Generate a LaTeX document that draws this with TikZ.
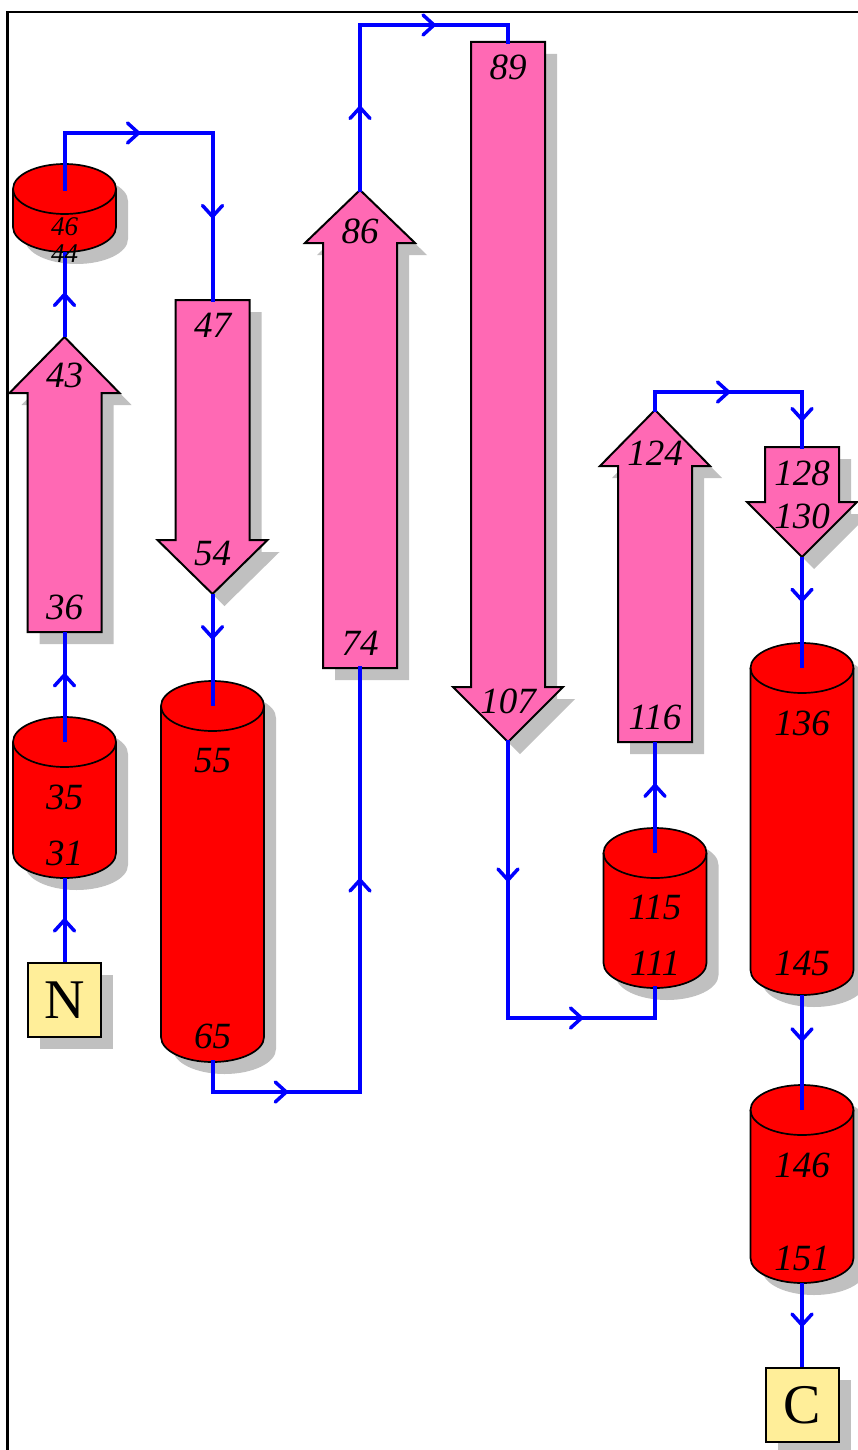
\documentclass[tikz,border=0pt]{standalone}
\usepackage{fontspec}
\setmainfont{Liberation Serif}
\usetikzlibrary{decorations.markings}
\definecolor{pinkc}{HTML}{FF69B4}
\definecolor{shadowc}{HTML}{C0C0C0}
\definecolor{termc}{HTML}{FFEE99}
\definecolor{bluec}{HTML}{0000FF}
\newcommand\arrpath[4]{(#1,#2) -- (#1+55,#3) -- (#1+37,#3) -- (#1+37,#4) -- (#1-37,#4) -- (#1-37,#3) -- (#1-55,#3) -- cycle}
\newcommand\strandshape[5]{%
  \fill[shadowc,shift={(12,12)}] \arrpath{#2}{#3}{#4}{#5};
  \filldraw[strandst] \arrpath{#2}{#3}{#4}{#5};
  \coordinate (#1-tip) at (#2,#3);
  \coordinate (#1-end) at (#2,#5);}
\newcommand\cylpath[3]{(#1-51.5,#2) -- (#1-51.5,#3) arc[start angle=180,end angle=0,x radius=51.5,y radius=25] -- (#1+51.5,#2) arc[start angle=0,end angle=-180,x radius=51.5,y radius=25] -- cycle}
\newcommand\helixshape[4]{%
  \fill[shadowc,shift={(12,12)}] \cylpath{#2}{#3}{#4};
  \filldraw[helixst] \cylpath{#2}{#3}{#4};
  \draw[helixst,fill=none] (#2-51.5,#3) arc[start angle=180,end angle=0,x radius=51.5,y radius=25];
  \coordinate (#1-top) at (#2,#3);
  \coordinate (#1-bot) at (#2,#4+25);}
\begin{document}
\begin{tikzpicture}[x=1pt,y=-1pt,
  strandst/.style={draw=black,line width=2pt,fill=pinkc},
  helixst/.style={draw=black,line width=1.7pt,fill=red},
  termst/.style={draw=black,line width=2pt,fill=termc,minimum width=73pt,minimum height=74pt,inner sep=0pt,font=\fontsize{56}{56}\selectfont},
  termshadow/.style={fill=shadowc,minimum width=73pt,minimum height=74pt,inner sep=0pt},
  conn/.style={draw=bluec,line width=4pt},
  tick/.style={postaction={decorate},decoration={markings,mark=at position #1 with {\draw[bluec,line width=3.5pt,line cap=round,line join=miter] (-11pt,10pt) -- (0pt,0pt) -- (-11pt,-10pt);}}},
  tick/.default=0.5,
  lab/.style={anchor=base,inner sep=0pt,font=\fontsize{37}{37}\selectfont\itshape},
  smalllab/.style={anchor=base,inner sep=0pt,font=\fontsize{27}{27}\selectfont\itshape}]
\useasboundingbox (0,0) rectangle (858,1450);
% frame
\draw[line width=2.5pt] (7.5,1460) -- (7.5,12) -- (870,12);
% strands
\strandshape{s43}{64.5}{337}{393}{632}
\strandshape{s47}{212.5}{594}{540}{300}
\strandshape{s86}{360}{190}{243}{668}
\strandshape{s89}{508}{742}{687}{42}
\strandshape{s124}{655}{410}{466}{742}
\strandshape{s128}{802}{557}{502}{447}
% helices
\helixshape{h31}{64.5}{742}{853}
\helixshape{h44}{64.5}{189}{227}
\helixshape{h55}{212.5}{706}{1037}
\helixshape{h111}{655}{853}{963}
\helixshape{h136}{802}{668}{970}
\helixshape{h146}{802}{1110}{1258}
% termini
\node[termshadow] (nsh) at (76.5,1012) {};
\node[termst] (nterm) at (64.5,1000) {N};
\node[termshadow] (csh) at (814,1417) {};
\node[termst] (cterm) at (802,1405) {C};
% corner coordinates
\coordinate (k1) at (64.5,133);
\coordinate (k2) at (212.5,133);
\coordinate (k3) at (212.5,1092);
\coordinate (k4) at (360,1092);
\coordinate (k5) at (360,25);
\coordinate (k6) at (508,25);
\coordinate (k7) at (508,1018);
\coordinate (k8) at (655,1018);
\coordinate (k9) at (655,392);
\coordinate (k10) at (802,392);
% connectors
\draw[conn,tick] (nterm.north) -- (h31-bot);
\draw[conn,tick=0.61] (h31-top) -- (s43-end);
\draw[conn,tick] (s43-tip) -- (h44-bot);
\draw[conn,line cap=rect] (h44-top) -- (k1);
\draw[conn,tick,line cap=rect] (k1) -- (k2);
\draw[conn,tick,line cap=rect] (k2) -- (s47-end);
\draw[conn,tick=0.39] (s47-tip) -- (h55-top);
\draw[conn,line cap=rect] (h55-bot) -- (k3);
\draw[conn,tick,line cap=rect] (k3) -- (k4);
\draw[conn,tick,line cap=rect] (k4) -- (s86-end);
\draw[conn,tick,line cap=rect] (s86-tip) -- (k5);
\draw[conn,tick,line cap=rect] (k5) -- (k6);
\draw[conn,line cap=rect] (k6) -- (s89-end);
\draw[conn,tick,line cap=rect] (s89-tip) -- (k7);
\draw[conn,tick,line cap=rect] (k7) -- (k8);
\draw[conn,line cap=rect] (k8) -- (h111-bot);
\draw[conn,tick=0.61] (h111-top) -- (s124-end);
\draw[conn,line cap=rect] (s124-tip) -- (k9);
\draw[conn,tick,line cap=rect] (k9) -- (k10);
\draw[conn,tick,line cap=rect] (k10) -- (s128-end);
\draw[conn,tick=0.39] (s128-tip) -- (h136-top);
\draw[conn,tick=0.39] (h136-bot) -- (h146-top);
\draw[conn,tick] (h146-bot) -- (cterm.north);
% labels
\node[smalllab] (t46) at (64.5,235) {46};
\node[smalllab] (t44) at (64.5,262) {44};
\node[lab] (t43) at (64.5,387) {43};
\node[lab] (t36) at (64.5,619) {36};
\node[lab] (t35) at (64.5,809) {35};
\node[lab] (t31) at (64.5,865) {31};
\node[lab] (t47) at (212.5,337) {47};
\node[lab] (t54) at (212.5,565) {54};
\node[lab] (t55) at (212.5,772) {55};
\node[lab] (t65) at (212.5,1048) {65};
\node[lab] (t86) at (360,243) {86};
\node[lab] (t74) at (360,655) {74};
\node[lab] (t89) at (508,80) {89};
\node[lab] (t107) at (508,713) {107};
\node[lab] (t124) at (655,465) {124};
\node[lab] (t116) at (655,729) {116};
\node[lab] (t115) at (655,919) {115};
\node[lab] (t111) at (655,975) {111};
\node[lab] (t128) at (802,485) {128};
\node[lab] (t130) at (802,528) {130};
\node[lab] (t136) at (802,735) {136};
\node[lab] (t145) at (802,975) {145};
\node[lab] (t146) at (802,1177) {146};
\node[lab] (t151) at (802,1270) {151};
\end{tikzpicture}
\end{document}
